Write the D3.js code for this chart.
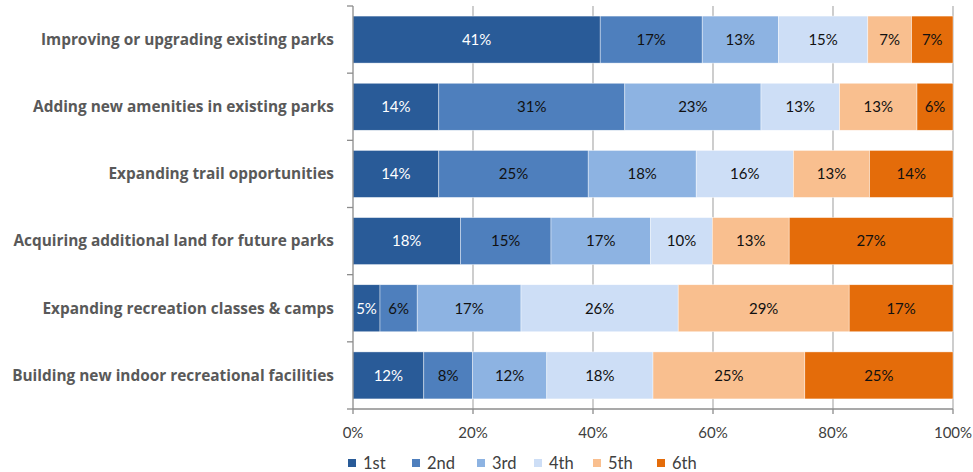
<!DOCTYPE html>
<html>
<head>
<meta charset="utf-8">
<script src="https://cdn.jsdelivr.net/npm/d3@7"></script>
<style>
  body { margin: 0; background: #fff; }
  text { font-family: Lato, "Open Sans", sans-serif; }
</style>
</head>
<body>
<script>
var width = 973;
var height = 472;

// chart data
var categories = [
  "Improving or upgrading existing parks",
  "Adding new amenities in existing parks",
  "Expanding trail opportunities",
  "Acquiring additional land for future parks",
  "Expanding recreation classes & camps",
  "Building new indoor recreational facilities"
];
var seriesNames = ["1st", "2nd", "3rd", "4th", "5th", "6th"];
var first  = [41.2, 14.3, 14.3, 17.9, 4.5, 11.8];
var second = [17.0, 31.0, 24.9, 15.1, 6.2, 8.1];
var third  = [12.7, 22.7, 18.0, 16.6, 17.3, 12.4];
var fourth = [14.9, 13.1, 16.2, 10.3, 26.2, 17.7];
var fifth  = [7.3, 12.9, 12.7, 12.8, 28.5, 25.3];
var sixth  = [6.9, 6.0, 13.9, 27.3, 17.3, 24.7];
var xTicks = [0, 0.2, 0.4, 0.6, 0.8, 1];

var colors = ["#295b98", "#4e7fbd", "#8db3e2", "#cddef6", "#f9bf8f", "#e46c0a"];
var textColors = ["#ffffff", "#111111", "#111111", "#111111", "#111111", "#111111"];

var seriesValues = [first, second, third, fourth, fifth, sixth];
var rows = categories.map(function (c, i) {
  var r = { cat: c };
  seriesNames.forEach(function (s, j) { r[s] = seriesValues[j][i]; });
  return r;
});

var margin = { top: 6, left: 353, right: 20, bottom: 63 };
var plotW = width - margin.left - margin.right;
var plotH = height - margin.top - margin.bottom;

var svg = d3.select("body").append("svg")
  .attr("width", width).attr("height", height);

var g = svg.append("g").attr("transform", "translate(" + margin.left + "," + margin.top + ")");

var x = d3.scaleLinear().domain([0, 1]).range([0, plotW]);
var y = d3.scaleBand().domain(categories).range([0, plotH]).paddingInner(0.3).paddingOuter(0.15);

// gridlines
g.selectAll("line.grid").data(xTicks.slice(1)).enter().append("line")
  .attr("x1", d => x(d)).attr("x2", d => x(d))
  .attr("y1", 0).attr("y2", plotH)
  .style("stroke", "#b3b3b3").style("stroke-width", 1.3);

var stack = d3.stack().keys(seriesNames);
var layers = stack(rows);

var layerG = g.selectAll("g.layer").data(layers).enter().append("g")
  .attr("fill", (d, i) => colors[i]);

layerG.selectAll("rect").data(d => d).enter().append("rect")
  .attr("x", d => x(d[0] / 100))
  .attr("width", d => x(d[1] / 100) - x(d[0] / 100))
  .attr("y", d => y(d.data.cat))
  .attr("height", y.bandwidth())
  .style("stroke", "#ffffff").style("stroke-width", 0.6).style("stroke-opacity", 0.7);

layerG.each(function (layer, i) {
  d3.select(this).selectAll("text").data(layer).enter().append("text")
    .attr("x", d => (x(d[0] / 100) + x(d[1] / 100)) / 2)
    .attr("y", d => y(d.data.cat) + y.bandwidth() / 2)
    .attr("dy", "0.35em")
    .attr("text-anchor", "middle")
    .style("font-size", "15px")
    .style("fill", textColors[i])
    .text(d => Math.round(d[1] - d[0]) + "%");
});

// left axis
var yAxisG = g.append("g");
yAxisG.append("line").attr("x1", 0).attr("x2", 0).attr("y1", 0).attr("y2", plotH)
  .style("stroke", "#8c8c8c").style("stroke-width", 1.3);
var bounds = d3.range(categories.length + 1).map(i => i * plotH / categories.length);
yAxisG.selectAll("line.tk").data(bounds).enter().append("line")
  .attr("x1", -6).attr("x2", 0).attr("y1", d => d).attr("y2", d => d)
  .style("stroke", "#8c8c8c").style("stroke-width", 1.3);
yAxisG.selectAll("text").data(categories).enter().append("text")
  .attr("x", -19).attr("y", d => y(d) + y.bandwidth() / 2).attr("dy", "0.35em")
  .attr("text-anchor", "end")
  .style("font-family", "'Open Sans', sans-serif")
  .style("font-size", "15.4px").style("font-weight", "bold").style("fill", "#595959")
  .text(d => d);

// bottom axis
var xAxisG = g.append("g").attr("transform", "translate(0," + plotH + ")");
xAxisG.append("line").attr("x1", 0).attr("x2", plotW)
  .style("stroke", "#8c8c8c").style("stroke-width", 1.3);
xAxisG.selectAll("line.tk").data(xTicks).enter().append("line")
  .attr("x1", d => x(d)).attr("x2", d => x(d)).attr("y1", 0).attr("y2", 5)
  .style("stroke", "#8c8c8c").style("stroke-width", 1.3);
xAxisG.selectAll("text").data(xTicks).enter().append("text")
  .attr("x", d => x(d)).attr("y", 24).attr("dy", "0.35em")
  .attr("text-anchor", "middle")
  .style("font-size", "15px").style("fill", "#404040")
  .text(d3.format(".0%"));

// legend
var legendX = [348, 412, 477, 534, 593, 657];
var legend = svg.append("g").selectAll("g").data(seriesNames).enter().append("g")
  .attr("transform", (d, i) => "translate(" + legendX[i] + ",459)");
legend.append("rect").attr("width", 8).attr("height", 8)
  .attr("fill", (d, i) => colors[i]);
legend.append("text").attr("x", 15).attr("y", 4).attr("dy", "0.36em")
  .style("font-size", "16.5px").style("fill", "#404040")
  .text(d => d);
</script>
</body>
</html>
